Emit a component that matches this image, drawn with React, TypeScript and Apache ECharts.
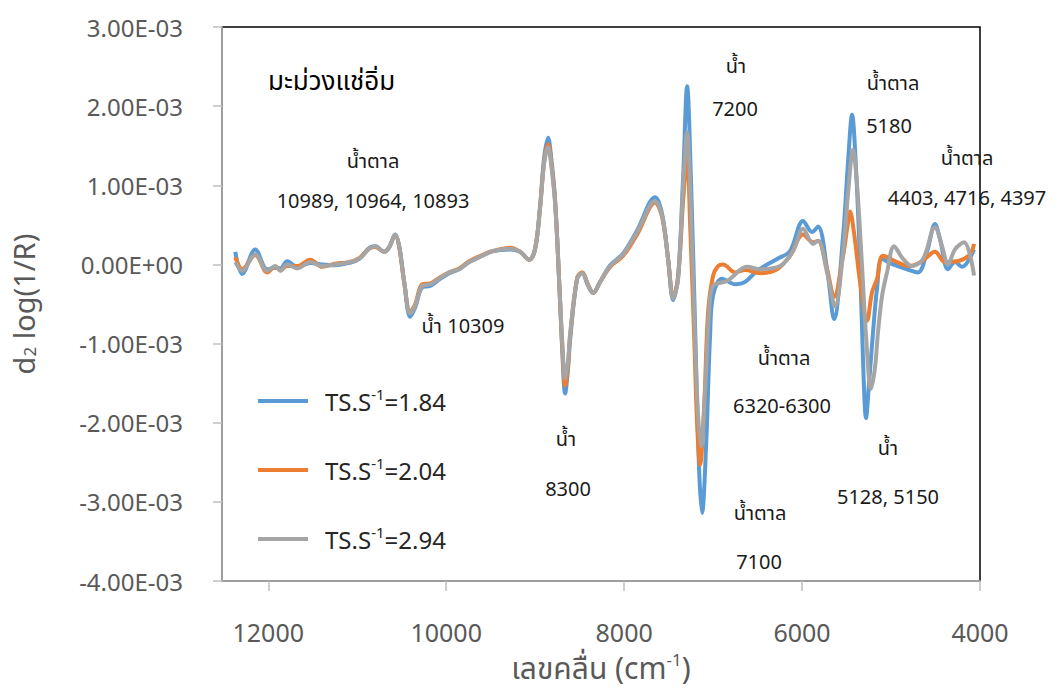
import React, { useEffect, useRef } from 'react';
import * as echarts from 'echarts';

// Values are in units of 1e-3 (d2 log(1/R)); x is wavenumber in cm-1
const seriesNames = ['TS.S^-1=1.84', 'TS.S^-1=2.04', 'TS.S^-1=2.94'];
const seriesColors = ['#5B9BD5', '#ED7D31', '#A5A5A5'];

const ts184: [number, number][] = [
  [12371,0.16],[12292,-0.12],[12146,0.19],[12011,-0.06],[11921,-0.04],[11865,-0.05],[11787,0.04],[11674,-0.03],[11528,0.02],[11393,0.0],[11247,-0.01],[11090,0.02],[10978,0.07],[10865,0.21],[10798,0.23],[10697,0.16],[10640,0.22],[10573,0.38],[10528,0.23],[10472,-0.22],[10405,-0.66],[10348,-0.54],[10270,-0.29],[10180,-0.27],[10079,-0.19],[9966,-0.11],[9854,-0.06],[9742,0.03],[9596,0.11],[9472,0.17],[9281,0.19],[9169,0.16],[9067,0.06],[9000,0.2],[8944,0.75],[8899,1.35],[8854,1.6],[8820,1.35],[8775,0.8],[8719,-0.5],[8697,-1.05],[8663,-1.63],[8629,-1.3],[8607,-0.95],[8528,-0.18],[8472,-0.1],[8404,-0.27],[8348,-0.36],[8270,-0.22],[8157,-0.01],[8011,0.14],[7854,0.43],[7652,0.85],[7573,0.64],[7506,0.07],[7449,-0.45],[7393,-0.15],[7337,1.1],[7292,2.25],[7247,1.0],[7202,-0.8],[7157,-2.6],[7124,-3.14],[7079,-2.3],[7034,-0.9],[7000,-0.39],[6899,-0.18],[6753,-0.25],[6640,-0.22],[6506,-0.08],[6281,0.07],[6135,0.17],[5989,0.55],[5888,0.41],[5820,0.48],[5719,-0.06],[5640,-0.69],[5539,0.36],[5483,1.3],[5438,1.89],[5393,1.2],[5348,0.0],[5315,-1.2],[5281,-1.94],[5247,-1.5],[5202,-0.85],[5157,-0.3],[5101,0.07],[4978,0.0],[4820,-0.06],[4697,-0.1],[4596,0.16],[4506,0.51],[4449,0.32],[4360,-0.06],[4281,0.03],[4202,-0.03],[4067,0.19]
];

const ts204: [number, number][] = [
  [12371,0.09],[12292,-0.06],[12146,0.12],[12011,-0.1],[11921,-0.03],[11865,-0.07],[11787,-0.02],[11674,-0.02],[11528,0.06],[11393,-0.03],[11247,0.01],[11090,0.03],[10978,0.08],[10865,0.2],[10798,0.22],[10697,0.16],[10640,0.22],[10573,0.37],[10528,0.22],[10472,-0.23],[10405,-0.6],[10348,-0.5],[10270,-0.25],[10180,-0.24],[10079,-0.17],[9966,-0.1],[9854,-0.05],[9742,0.04],[9596,0.12],[9472,0.17],[9281,0.21],[9169,0.16],[9067,0.06],[9000,0.2],[8944,0.73],[8899,1.3],[8854,1.52],[8820,1.3],[8775,0.78],[8719,-0.48],[8697,-1.0],[8663,-1.53],[8629,-1.25],[8607,-0.9],[8528,-0.17],[8472,-0.1],[8404,-0.26],[8348,-0.36],[8270,-0.22],[8157,-0.03],[8011,0.11],[7854,0.38],[7652,0.78],[7573,0.6],[7506,0.07],[7449,-0.42],[7393,-0.15],[7337,0.8],[7292,1.37],[7258,0.5],[7213,-0.9],[7180,-2.0],[7146,-2.53],[7101,-1.8],[7056,-0.6],[7000,-0.14],[6944,-0.02],[6888,0.0],[6753,-0.1],[6640,-0.07],[6472,-0.11],[6281,-0.06],[6135,0.11],[5989,0.38],[5876,0.28],[5820,0.3],[5719,-0.06],[5640,-0.41],[5539,0.11],[5494,0.45],[5461,0.67],[5416,0.4],[5348,-0.22],[5270,-0.71],[5213,-0.35],[5157,-0.18],[5090,0.11],[4933,0.03],[4787,-0.02],[4652,0.04],[4506,0.16],[4393,0.03],[4225,0.05],[4112,0.13],[4067,0.26]
];

const ts294: [number, number][] = [
  [12371,0.03],[12292,-0.08],[12146,0.13],[12011,-0.08],[11921,-0.02],[11865,-0.08],[11787,0.0],[11674,-0.05],[11528,0.03],[11393,-0.02],[11247,0.0],[11090,0.03],[10978,0.07],[10865,0.2],[10798,0.23],[10697,0.16],[10640,0.22],[10573,0.38],[10528,0.23],[10472,-0.22],[10405,-0.62],[10348,-0.52],[10270,-0.27],[10180,-0.25],[10079,-0.18],[9966,-0.1],[9854,-0.06],[9742,0.03],[9596,0.11],[9472,0.17],[9281,0.2],[9169,0.16],[9067,0.06],[9000,0.2],[8944,0.72],[8899,1.28],[8854,1.48],[8820,1.26],[8775,0.76],[8719,-0.46],[8697,-0.95],[8663,-1.44],[8629,-1.2],[8607,-0.88],[8528,-0.18],[8472,-0.11],[8404,-0.27],[8348,-0.36],[8270,-0.22],[8157,-0.02],[8011,0.13],[7854,0.41],[7652,0.8],[7573,0.61],[7506,0.07],[7449,-0.43],[7393,-0.18],[7337,0.99],[7292,1.67],[7247,0.6],[7202,-1.0],[7169,-1.9],[7135,-2.3],[7090,-1.6],[7045,-0.6],[7000,-0.27],[6843,-0.21],[6618,-0.03],[6472,-0.06],[6247,-0.02],[6101,0.17],[5989,0.45],[5876,0.26],[5820,0.3],[5719,-0.1],[5629,-0.53],[5539,0.15],[5483,0.9],[5427,1.45],[5382,1.0],[5326,-0.02],[5281,-0.9],[5225,-1.57],[5180,-1.3],[5146,-0.85],[5101,-0.4],[5045,-0.1],[4966,0.23],[4865,0.07],[4764,-0.02],[4640,0.07],[4506,0.47],[4427,0.23],[4360,0.0],[4281,0.19],[4180,0.28],[4067,-0.14]
];

const seriesData = [ts184, ts204, ts294];

const xTicks = [4000, 6000, 8000, 10000, 12000];
const xMin = 4000;
const xMax = 12520;
const yMin = -0.004;
const yMax = 0.003;
const yStep = 0.001;

const chartTitle = 'มะม่วงแช่อิ่ม';
const annotations = [
  { text: 'น้ำตาล', x: 373, y: 160 },
  { text: '10989, 10964, 10893', x: 373, y: 200 },
  { text: 'น้ำ 10309', x: 463, y: 325 },
  { text: 'น้ำ', x: 566, y: 438 },
  { text: '8300', x: 568, y: 488 },
  { text: 'น้ำ', x: 736, y: 65 },
  { text: '7200', x: 735, y: 108 },
  { text: 'น้ำตาล', x: 893, y: 82 },
  { text: '5180', x: 889, y: 125 },
  { text: 'น้ำตาล', x: 967, y: 157 },
  { text: '4403, 4716, 4397', x: 967, y: 197 },
  { text: 'น้ำตาล', x: 784, y: 357 },
  { text: '6320-6300', x: 782, y: 405 },
  { text: 'น้ำ', x: 888, y: 447 },
  { text: '5128, 5150', x: 888, y: 496 },
  { text: 'น้ำตาล', x: 760, y: 512 },
  { text: '7100', x: 759, y: 561 },
];

const FONT = "'Noto Sans', 'Noto Sans Thai', Tahoma, 'DejaVu Sans', sans-serif";

const fmtY = (v: number) => {
  if (Math.abs(v) < 1e-12) return '0.00E+00';
  const s = v.toExponential(2);
  const [m, e] = s.split('e');
  const n = parseInt(e, 10);
  return `${m}E${n < 0 ? '-' : '+'}${String(Math.abs(n)).padStart(2, '0')}`;
};

export default function App() {
  const ref = useRef<HTMLDivElement>(null);
  useEffect(() => {
    document.body.style.margin = '0';
    if (!ref.current) return;
    const chart = echarts.init(ref.current, undefined, { renderer: 'svg' });
    const option: any = {
      animation: false,
      backgroundColor: '#ffffff',
      grid: {
        left: 222, right: 78, top: 27, bottom: 105,
        show: true, borderColor: '#000000', borderWidth: 1.5, backgroundColor: 'transparent',
      },
      xAxis: {
        type: 'value', inverse: true, min: xMin, max: xMax,
        name: 'เลขคลื่น (cm{sup|-1})',
        nameLocation: 'middle', nameGap: 66,
        nameTextStyle: {
          fontSize: 30, lineHeight: 32, color: '#595959', fontFamily: FONT,
          rich: { sup: { fontSize: 17, color: '#595959', fontFamily: FONT, verticalAlign: 'top', lineHeight: 17 } },
        },
        axisLine: { show: true, onZero: false, lineStyle: { color: '#bfbfbf', width: 1.5 } },
        axisTick: { show: true, customValues: xTicks, length: 10, lineStyle: { color: '#bfbfbf', width: 1.5 } },
        axisLabel: {
          customValues: xTicks, fontSize: 25, lineHeight: 28, color: '#595959', fontFamily: FONT, margin: 37,
          formatter: (v: number) => String(Math.round(v)),
        },
        splitLine: { show: false },
      },
      yAxis: {
        type: 'value', min: yMin, max: yMax, interval: yStep,
        name: 'd{sub|2} log(1/R)',
        nameLocation: 'middle', nameGap: 184,
        nameTextStyle: {
          fontSize: 29, color: '#595959', fontFamily: FONT,
          rich: { sub: { fontSize: 17, color: '#595959', fontFamily: FONT, verticalAlign: 'bottom', lineHeight: 17 } },
        },
        axisLine: { show: true, lineStyle: { color: '#bfbfbf', width: 1.5 } },
        axisTick: { show: true, length: 9, lineStyle: { color: '#bfbfbf', width: 1.5 } },
        axisLabel: { fontSize: 24, color: '#595959', fontFamily: FONT, margin: 39, formatter: fmtY },
        splitLine: { show: false },
      },
      legend: {
        orient: 'vertical', left: 253, top: 381, itemWidth: 50, itemHeight: 4, itemGap: 39,
        icon: 'rect',
        data: seriesNames,
        formatter: (name: string) => name.replace('^-1', '{sup|-1}'),
        textStyle: {
          fontSize: 24, color: '#262626', fontFamily: FONT, lineHeight: 30, padding: [0, 0, 0, 12],
          rich: { sup: { fontSize: 15, color: '#262626', fontFamily: FONT, verticalAlign: 'top', lineHeight: 15 } },
        },
      },
      graphic: [
        { type: 'text', x: 268, y: 80, style: { text: chartTitle, fontSize: 26, fontFamily: FONT, fill: '#000', align: 'left', verticalAlign: 'middle' } },
        ...annotations.map((a) => ({
          type: 'text', x: a.x, y: a.y,
          style: { text: a.text, fontSize: 20, fontFamily: FONT, fill: '#1a1a1a', align: 'center', verticalAlign: 'middle' },
        })),
      ],
      series: seriesData.map((d, i) => ({
        name: seriesNames[i],
        type: 'line',
        data: d.map(([x, y]) => [x, y * 1e-3]),
        showSymbol: false, symbol: 'none',
        smooth: 0.35,
        lineStyle: { color: seriesColors[i], width: 4 },
        itemStyle: { color: seriesColors[i] },
        z: 2 + i,
      })),
    };
    chart.setOption(option);
    return () => chart.dispose();
  }, []);
  return <div ref={ref} style={{ width: 1058, height: 688 }} />;
}
